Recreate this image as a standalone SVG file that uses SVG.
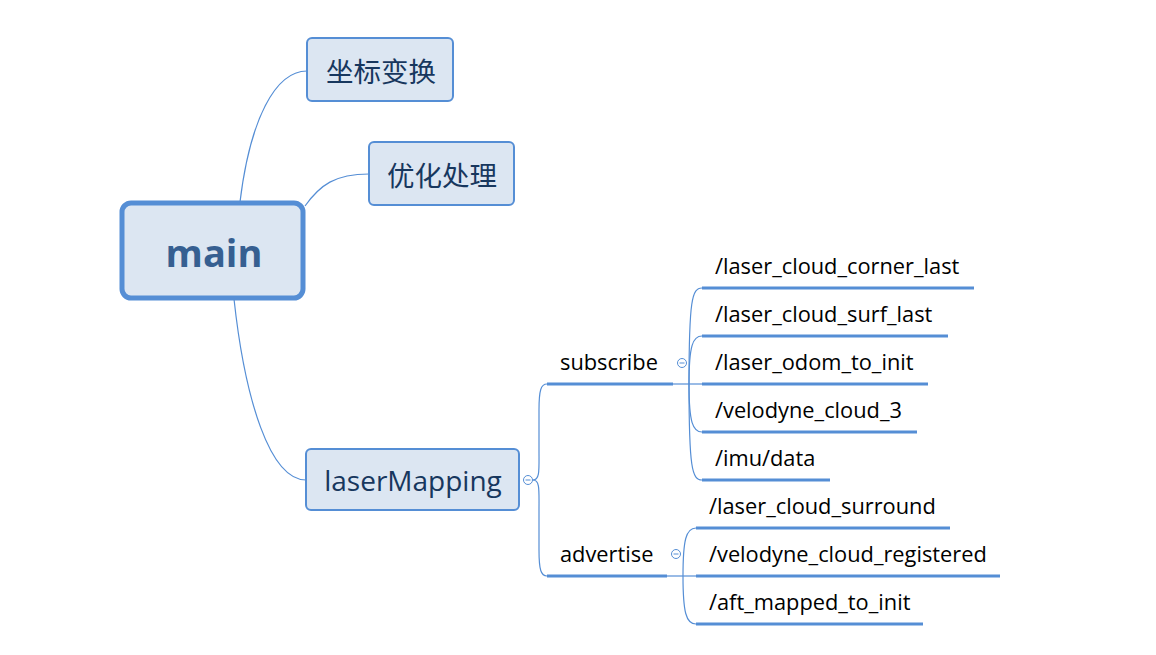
<svg xmlns="http://www.w3.org/2000/svg" width="1156" height="655" viewBox="0 0 1156 655">
<style>
.box{fill:#dce6f2;stroke:#558ed5;stroke-width:2}
.main{fill:#dce6f2;stroke:#558ed5;stroke-width:5}
.c{fill:none;stroke:#558ed5;stroke-width:1.2}
.ul{fill:none;stroke:#558ed5;stroke-width:3.2}
.cir{fill:#ffffff;stroke:#558ed5;stroke-width:1}
.dash{stroke:#558ed5;stroke-width:1}
.t1{font-family:"Open Sans","Noto Sans CJK SC",sans-serif;font-size:27.5px;fill:#17375e;text-anchor:middle}
.tl{font-size:28px}
.tm{font-family:"Open Sans",sans-serif;font-size:38px;font-weight:bold;fill:#365f91;text-anchor:middle}
.t2{font-family:"Open Sans",sans-serif;font-size:21.8px;fill:#000000}
</style>
<rect width="1156" height="655" fill="#ffffff"/>
<g id="connectors">
<path class="c" d="M240,202 C250,120 275,71 307,71"/>
<path class="c" d="M305,206 C320,185 335,174 369,174"/>
<path class="c" d="M234,299 C245,400 270,480 306,480"/>
<path class="c" d="M533,480 C540,480 539,470 539,450 L539,410 C539,390 541,384 547,384"/>
<path class="c" d="M533,480 C540,480 539,490 539,510 L539,550 C539,570 541,576 547,576"/>
<line class="c" x1="673" y1="384" x2="702" y2="384"/>
<path class="c" d="M689,384 C689,300 692,288 702,288"/>
<path class="c" d="M689,384 C689,345 693,336 702,336"/>
<path class="c" d="M689,384 C689,423 693,432 702,432"/>
<path class="c" d="M689,384 C689,468 692,480 702,480"/>
<line class="c" x1="667" y1="576" x2="696" y2="576"/>
<path class="c" d="M683,576 C683,540 686,528 696,528"/>
<path class="c" d="M683,576 C683,612 686,624 696,624"/>
</g>
<g id="node-main">
<rect class="main" x="122" y="203" width="181" height="95" rx="9"/>
<text class="tm" x="214" y="267">main</text>
</g>
<g id="node-zuobiao">
<rect class="box" x="307" y="38" width="146" height="63" rx="5"/>
<text class="t1" x="381" y="82">坐标变换</text>
</g>
<g id="node-youhua">
<rect class="box" x="369" y="142" width="145" height="63" rx="5"/>
<text class="t1" x="442" y="186">优化处理</text>
</g>
<g id="node-laserMapping">
<rect class="box" x="306" y="449" width="213" height="61" rx="5"/>
<text class="t1 tl" x="413" y="491">laserMapping</text>
<circle class="cir" cx="528" cy="480" r="4.5"/>
<line class="dash" x1="525.5" y1="480" x2="530.5" y2="480"/>
</g>
<g id="node-subscribe">
<line class="ul" x1="547" y1="384" x2="673" y2="384"/>
<text class="t2" x="560" y="370">subscribe</text>
<circle class="cir" cx="682" cy="363" r="4.5"/>
<line class="dash" x1="679.5" y1="363" x2="684.5" y2="363"/>
</g>
<g id="node-advertise">
<line class="ul" x1="547" y1="576" x2="667" y2="576"/>
<text class="t2" x="560" y="562">advertise</text>
<circle class="cir" cx="676" cy="554" r="4.5"/>
<line class="dash" x1="673.5" y1="554" x2="678.5" y2="554"/>
</g>
<g id="node-corner">
<line class="ul" x1="702" y1="288" x2="974" y2="288"/>
<text class="t2" x="715" y="274">/laser_cloud_corner_last</text>
</g>
<g id="node-surf">
<line class="ul" x1="702" y1="336" x2="948" y2="336"/>
<text class="t2" x="715" y="322">/laser_cloud_surf_last</text>
</g>
<g id="node-odom">
<line class="ul" x1="702" y1="384" x2="928" y2="384"/>
<text class="t2" x="715" y="370">/laser_odom_to_init</text>
</g>
<g id="node-velo3">
<line class="ul" x1="702" y1="432" x2="917" y2="432"/>
<text class="t2" x="715" y="418">/velodyne_cloud_3</text>
</g>
<g id="node-imu">
<line class="ul" x1="702" y1="480" x2="830" y2="480"/>
<text class="t2" x="715" y="466">/imu/data</text>
</g>
<g id="node-surround">
<line class="ul" x1="696" y1="528" x2="950" y2="528"/>
<text class="t2" x="709" y="514">/laser_cloud_surround</text>
</g>
<g id="node-registered">
<line class="ul" x1="696" y1="576" x2="1000" y2="576"/>
<text class="t2" x="709" y="562">/velodyne_cloud_registered</text>
</g>
<g id="node-aft">
<line class="ul" x1="696" y1="624" x2="923" y2="624"/>
<text class="t2" x="709" y="610">/aft_mapped_to_init</text>
</g>
</svg>
